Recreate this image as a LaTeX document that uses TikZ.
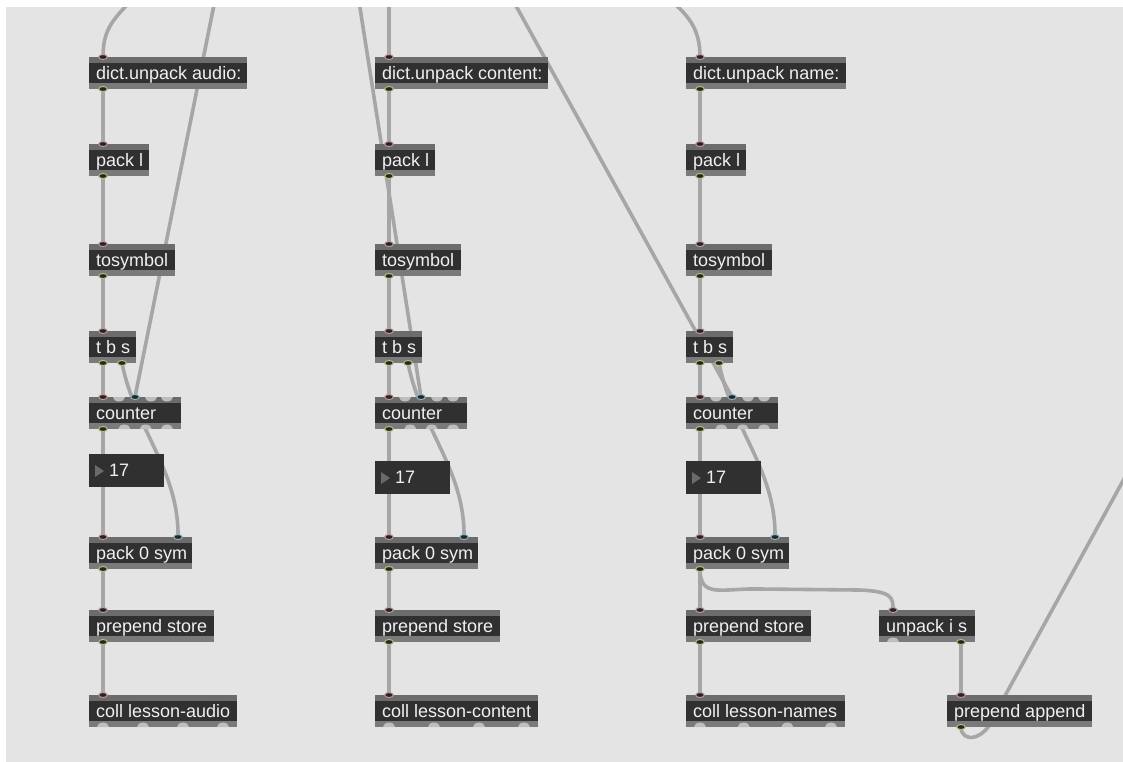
\documentclass[tikz,border=0pt]{standalone}
\usepackage{fontspec}
\setmainfont{Liberation Sans}
\usetikzlibrary{calc}
\pgfdeclarelayer{bgl}
\pgfdeclarelayer{cords}
\pgfsetlayers{bgl,cords,main}
\definecolor{bgc}{HTML}{E4E4E4}
\definecolor{bodyc}{HTML}{303030}
\definecolor{bandt}{HTML}{6C6C6C}
\definecolor{bandb}{HTML}{7A7A7A}
\definecolor{cordc}{HTML}{A6A6A6}
\definecolor{rimin}{HTML}{C49A9A}
\definecolor{rimout}{HTML}{B9BE7A}
\definecolor{rimblue}{HTML}{8FB6C4}
\definecolor{portlight}{HTML}{BEBEBE}
\definecolor{portdark}{HTML}{262626}
\definecolor{tric}{HTML}{6A6A6A}

\newcommand{\maxobj}[5]{%
  \node[objbox, minimum width=#4pt] (#1) at (#2,#3) {};
  \fill[bandt] (#1.north west) rectangle ([yshift=-6pt]#1.north east);
  \fill[bandb] ([yshift=6pt]#1.south west) rectangle (#1.south east);
  \node[objtext] (#1t) at ([xshift=7pt,yshift=-22pt]#1.north west) {#5};}
\newcommand{\mxnum}[4]{%
  \node[objbox, minimum width=75pt, minimum height=33pt] (#1) at (#2,#3) {};
  \fill[tric] ([xshift=6pt,yshift=-11pt]#1.north west) -- ([xshift=6pt,yshift=-23pt]#1.north west) -- ([xshift=15pt,yshift=-17pt]#1.north west) -- cycle;
  \node[objtext] (#1t) at ([xshift=20pt,yshift=-22pt]#1.north west) {#4};}
\newcommand{\mxin}[4]{%
  \coordinate (#1) at ([xshift=#3pt]#2.north west);
  \filldraw[fill=portdark, draw=#4, line width=1pt] (#1) ellipse [x radius=4.3pt, y radius=2.5pt];}
\newcommand{\mxout}[4]{%
  \coordinate (#1) at ([xshift=#3pt]#2.south west);
  \filldraw[fill=portdark, draw=#4, line width=1pt] (#1) ellipse [x radius=4.3pt, y radius=2.5pt];}
\newcommand{\mxlin}[2]{%
  \fill[portlight] ([xshift=#2pt-6pt]#1.north west) arc[start angle=180,end angle=360,x radius=6pt,y radius=4.5pt] -- cycle;}
\newcommand{\mxlout}[2]{%
  \fill[portlight] ([xshift=#2pt-6pt]#1.south west) arc[start angle=180,end angle=0,x radius=6pt,y radius=4.5pt] -- cycle;}

\begin{document}
\begin{tikzpicture}[x=1pt,y=-1pt,
  objbox/.style={draw=none, fill=bodyc, minimum height=32pt, inner sep=0pt, outer sep=0pt, anchor=north west},
  objtext/.style={text=white!94!black, font=\fontsize{18}{20}\selectfont, inner sep=0pt, anchor=base west},
  cordline/.style={draw=cordc, line width=3.6pt}]
\useasboundingbox (0,0) rectangle (1123,761);
\begin{pgfonlayer}{bgl}
  \fill[white] (0,0) rectangle (1123,761);
  \fill[bgc] (6,7) rectangle (1124,762);
\end{pgfonlayer}

\foreach \c/\x/\ny/\dw/\dt/\cw/\ct in {
  a/89/454/158/dict.unpack audio:/148/coll lesson-audio,
  b/375/461/173/dict.unpack content:/163/coll lesson-content,
  c/686/461/160/dict.unpack name:/159/coll lesson-names}{
  \maxobj{\c dict}{\x}{57}{\dw}{\dt}
  \maxobj{\c pk}{\x}{144}{60}{pack l}
  \maxobj{\c tosym}{\x}{244}{86}{tosymbol}
  \maxobj{\c tbs}{\x}{331}{47}{t b s}
  \maxobj{\c cnt}{\x}{397}{92}{counter}
  \mxnum{\c num}{\x}{\ny}{17}
  \maxobj{\c pks}{\x}{537}{103}{pack 0 sym}
  \maxobj{\c pre}{\x}{610}{125}{prepend store}
  \maxobj{\c coll}{\x}{695}{\cw}{\ct}
  % ports
  \mxin{\c dict-i}{\c dict}{14}{rimin}
  \mxout{\c dict-o}{\c dict}{14}{rimout}
  \mxin{\c pk-i}{\c pk}{14}{rimin}
  \mxout{\c pk-o}{\c pk}{14}{rimout}
  \mxin{\c tosym-i}{\c tosym}{14}{rimin}
  \mxout{\c tosym-o}{\c tosym}{14}{rimout}
  \mxin{\c tbs-i}{\c tbs}{14}{rimin}
  \mxout{\c tbs-o1}{\c tbs}{14}{rimout}
  \mxout{\c tbs-o2}{\c tbs}{33}{rimout}
  \mxin{\c cnt-i1}{\c cnt}{14}{rimin}
  \mxlin{\c cnt}{30}
  \mxin{\c cnt-i3}{\c cnt}{46}{rimblue}
  \mxlin{\c cnt}{62}
  \mxlin{\c cnt}{78}
  \mxout{\c cnt-o1}{\c cnt}{14}{rimout}
  \mxlout{\c cnt}{35.3}
  \mxlout{\c cnt}{56.7}
  \mxlout{\c cnt}{78}
  \mxin{\c pks-i1}{\c pks}{14}{rimin}
  \mxin{\c pks-i2}{\c pks}{89}{rimblue}
  \mxout{\c pks-o}{\c pks}{14}{rimout}
  \mxin{\c pre-i}{\c pre}{14}{rimin}
  \mxout{\c pre-o}{\c pre}{14}{rimout}
  \mxin{\c coll-i}{\c coll}{14}{rimin}
  \pgfmathsetmacro\oa{14}
  \pgfmathsetmacro\ob{14+(\cw-28)/3}
  \pgfmathsetmacro\oc{14+2*(\cw-28)/3}
  \pgfmathsetmacro\od{\cw-14}
  \mxlout{\c coll}{\oa}
  \mxlout{\c coll}{\ob}
  \mxlout{\c coll}{\oc}
  \mxlout{\c coll}{\od}
  % cords
  \begin{pgfonlayer}{cords}
    \draw[cordline] (\c dict-o) -- (\c pk-i);
    \draw[cordline] (\c pk-o) -- (\c tosym-i);
    \draw[cordline] (\c tosym-o) -- (\c tbs-i);
    \draw[cordline] (\c tbs-o1) -- (\c cnt-i1);
    \draw[cordline] (\c cnt-o1) -- (\c pks-i1);
    \draw[cordline] (\c tbs-o2) .. controls +(13,66) and +(1,-67) .. (\c pks-i2);
    \draw[cordline] (\c pks-o) -- (\c pre-i);
    \draw[cordline] (\c pre-o) -- (\c coll-i);
  \end{pgfonlayer}
}

% extra objects
\maxobj{uis}{879}{610}{96}{unpack i s}
\maxobj{pa}{947}{695}{145}{prepend append}
\mxin{uis-i}{uis}{14}{rimin}
\mxlout{uis}{14}
\mxout{uis-o2}{uis}{82}{rimout}
\mxin{pa-i}{pa}{14}{rimin}
\mxout{pa-o}{pa}{14}{rimout}

% free ends of the cords that leave the picture
\coordinate (a-top1) at (137,-5);
\coordinate (a-top2) at (216,-5);
\coordinate (b-top1) at (389,-5);
\coordinate (b-top2) at (358,-5);
\coordinate (c-top1) at (664,-5);
\coordinate (c-top2) at (510,-5);
\coordinate (pa-far) at (1130,468);
\coordinate (pa-bend) at (995,714);

\begin{pgfonlayer}{cords}
  \begin{scope}
    \clip (6,7) rectangle (1124,762);
    \draw[cordline] (a-top1) .. controls (114,18) and (103,28) .. (adict-i);
    \draw[cordline] (a-top2) -- (acnt-i3);
    \draw[cordline] (b-top1) -- (bdict-i);
    \draw[cordline] (b-top2) -- (bcnt-i3);
    \draw[cordline] (c-top1) .. controls (688,14) and (700,28) .. (cdict-i);
    \draw[cordline] (c-top2) -- (ccnt-i3);
    \draw[cordline] (cpks-o) .. controls +(0,30) and (722,588) .. (760,589) -- (858,590) .. controls (893,591) and (893,598) .. (uis-i);
    \draw[cordline] (uis-o2) -- (pa-i);
    \draw[cordline] (pa-o) .. controls +(0,16) and (985,742) .. (pa-bend) -- (pa-far);
  \end{scope}
\end{pgfonlayer}
\end{tikzpicture}
\end{document}
